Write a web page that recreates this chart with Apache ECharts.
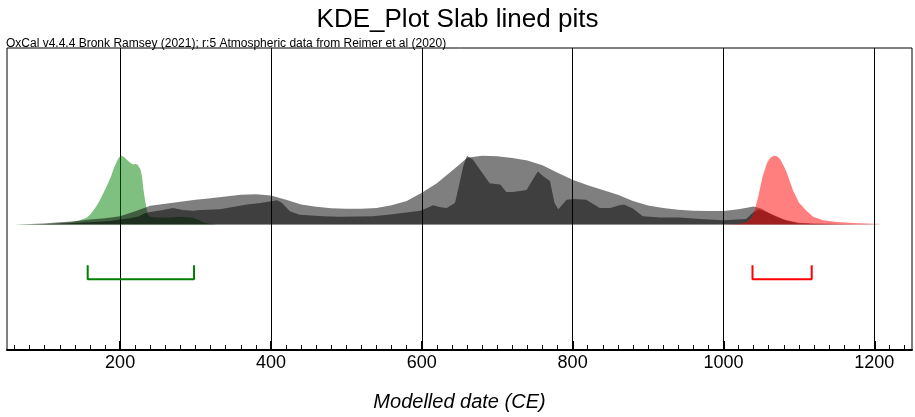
<!DOCTYPE html>
<html><head><meta charset="utf-8">
<script src="https://cdn.jsdelivr.net/npm/echarts@6/dist/echarts.min.js"></script>
<style>html,body{margin:0;padding:0;background:#fff}#c{width:915px;height:417px}</style>
</head><body><div id="c"></div>
<script>
const titleText = 'KDE_Plot Slab lined pits';
const subtitleText = 'OxCal v4.4.4 Bronk Ramsey (2021); r:5 Atmospheric data from Reimer et al (2020)';
const axisTitle = 'Modelled date (CE)';
const majorTicks = [200, 400, 600, 800, 1000, 1200];

// KDE model (light grey)
const kdeYears  = [60, 70, 80, 100, 120, 140, 160, 180, 200, 220, 240, 260, 280, 300, 320, 340, 360, 380, 400, 420, 440, 460, 480, 500, 520, 540, 560, 580, 600, 620, 640, 650, 660, 680, 700, 720, 740, 760, 780, 800, 820, 840, 860, 880, 900, 920, 940, 960, 980, 1000, 1020, 1040, 1050, 1060, 1080, 1100, 1120, 1140, 1160, 1180, 1200, 1210];
const kdeValues = [0, 0.003, 0.006, 0.015, 0.03, 0.045, 0.07, 0.09, 0.12, 0.19, 0.27, 0.30, 0.33, 0.36, 0.38, 0.405, 0.43, 0.44, 0.42, 0.36, 0.29, 0.255, 0.235, 0.228, 0.228, 0.24, 0.28, 0.34, 0.46, 0.60, 0.78, 0.87, 0.97, 1.0, 0.99, 0.965, 0.93, 0.86, 0.75, 0.65, 0.57, 0.50, 0.43, 0.34, 0.275, 0.24, 0.215, 0.20, 0.195, 0.195, 0.22, 0.26, 0.23, 0.17, 0.07, 0.025, 0.015, 0.01, 0.007, 0.004, 0.002, 0];

// Summed distribution (dark grey)
const sumYears  = [80, 120, 160, 187, 200, 213, 225, 232, 240, 257, 270, 283, 297, 306, 332, 359, 368, 386, 402, 408, 414, 421, 425, 438, 469, 491, 535, 558, 598, 607, 615, 625, 633, 644, 650, 655, 660, 668, 677, 690, 704, 712, 721, 739, 747, 754, 761, 770, 776, 781, 792, 801, 818, 836, 850, 862, 868, 880, 893, 916, 942, 969, 999, 1030, 1040, 1047, 1057, 1070, 1085, 1100, 1120, 1160];
const sumValues = [0, 0.01, 0.03, 0.05, 0.07, 0.09, 0.12, 0.16, 0.18, 0.21, 0.24, 0.21, 0.20, 0.21, 0.22, 0.27, 0.29, 0.31, 0.34, 0.35, 0.32, 0.24, 0.19, 0.14, 0.12, 0.11, 0.12, 0.145, 0.20, 0.24, 0.28, 0.25, 0.24, 0.31, 0.6, 0.85, 1.0, 0.94, 0.8, 0.6, 0.58, 0.47, 0.47, 0.5, 0.65, 0.77, 0.70, 0.63, 0.31, 0.22, 0.36, 0.37, 0.36, 0.24, 0.24, 0.28, 0.29, 0.23, 0.12, 0.10, 0.10, 0.08, 0.06, 0.08, 0.18, 0.22, 0.18, 0.11, 0.05, 0.015, 0.005, 0];

// Start boundary (green)
const startYears  = [60, 90, 110, 125, 135, 147, 156, 161, 169, 174, 182, 188, 191, 195, 198, 202, 205, 209, 213, 217, 220, 223, 227, 229, 231, 233, 235, 237, 240, 250, 265, 280, 295, 303, 310, 318, 330];
const startValues = [0, 0.005, 0.01, 0.02, 0.03, 0.06, 0.10, 0.15, 0.27, 0.37, 0.55, 0.70, 0.80, 0.90, 0.97, 1.0, 0.98, 0.94, 0.90, 0.87, 0.88, 0.87, 0.80, 0.70, 0.50, 0.35, 0.24, 0.14, 0.11, 0.10, 0.10, 0.11, 0.10, 0.07, 0.03, 0.01, 0];

// End boundary (red)
const endYears  = [1000, 1020, 1030, 1036, 1040, 1046, 1052, 1058, 1062, 1067, 1071, 1075, 1080, 1084, 1092, 1100, 1110, 1119, 1132, 1150, 1172, 1190, 1210, 1212];
const endValues = [0, 0.005, 0.03, 0.08, 0.15, 0.40, 0.70, 0.90, 0.97, 1.0, 0.99, 0.95, 0.85, 0.75, 0.50, 0.32, 0.20, 0.11, 0.06, 0.035, 0.02, 0.012, 0.005, 0];

// 95% ranges
const startRange = [157, 298];
const endRange = [1038.5, 1117];

const minorTicks = [];
for (let v = 60; v <= 1240; v += 20) if (v % 200 !== 0) minorTicks.push(v);

const F = 'Arial, "Liberation Sans", sans-serif';
const bTop = -0.594, bBot = -0.797;
const zip = (xs, ys) => xs.map((x, i) => [x, ys[i]]);
const area = (name, xs, ys, color) => ({
  name, type: 'line', data: zip(xs, ys), symbol: 'none', showSymbol: false,
  lineStyle: { width: 0, opacity: 0 }, areaStyle: { color, opacity: 1, origin: 0 },
  silent: true, animation: false
});
const bracket = (range, color) => ({
  type: 'line', symbol: 'none', silent: true, animation: false,
  data: [[range[0], bTop], [range[0], bBot], [range[1], bBot], [range[1], bTop]],
  lineStyle: { color, width: 2 }
});

const chart = echarts.init(document.getElementById('c'));
chart.setOption({
  animation: false,
  title: [
    { text: titleText, left: 'center', top: 2, textStyle: { fontFamily: F, fontSize: 26, fontWeight: 'normal', color: '#000' } },
    { text: subtitleText, left: 6, top: 38, padding: 0, textStyle: { fontFamily: F, fontSize: 12, fontWeight: 'normal', color: '#000' } }
  ],
  grid: { left: 7, right: 3, top: 48, bottom: 66, show: true, borderColor: '#000', borderWidth: 1, containLabel: false },
  xAxis: [
    {
      type: 'value', min: 50, max: 1250, position: 'bottom',
      axisLine: { show: true, onZero: false, lineStyle: { color: '#000', width: 2 } },
      axisTick: { show: true, inside: true, length: 9, customValues: majorTicks, lineStyle: { color: '#000', width: 2 } },
      axisLabel: { show: true, customValues: majorTicks, formatter: v => String(v), fontFamily: F, fontSize: 18, color: '#000', margin: 4 },
      splitLine: { show: true, lineStyle: { color: '#000', width: 1 } },
      name: axisTitle, nameLocation: 'middle', nameGap: 42,
      nameTextStyle: { fontFamily: F, fontSize: 20, fontStyle: 'italic', color: '#000' }
    },
    {
      type: 'value', min: 50, max: 1250, position: 'bottom',
      axisLine: { show: false, onZero: false },
      axisTick: { show: true, inside: true, length: 5, customValues: minorTicks, lineStyle: { color: '#000', width: 1 } },
      axisLabel: { show: false }, splitLine: { show: false }
    }
  ],
  yAxis: { type: 'value', min: -1.826, max: 2.565, show: false },
  series: [
    area('Start', startYears, startValues, 'rgba(0,128,0,0.5)'),
    area('KDE', kdeYears, kdeValues, 'rgba(0,0,0,0.5)'),
    area('Sum', sumYears, sumValues, 'rgba(0,0,0,0.5)'),
    area('End', endYears, endValues, 'rgba(255,0,0,0.5)'),
    bracket(startRange, '#008000'),
    bracket(endRange, '#ff0000')
  ]
});
</script>
</body></html>
